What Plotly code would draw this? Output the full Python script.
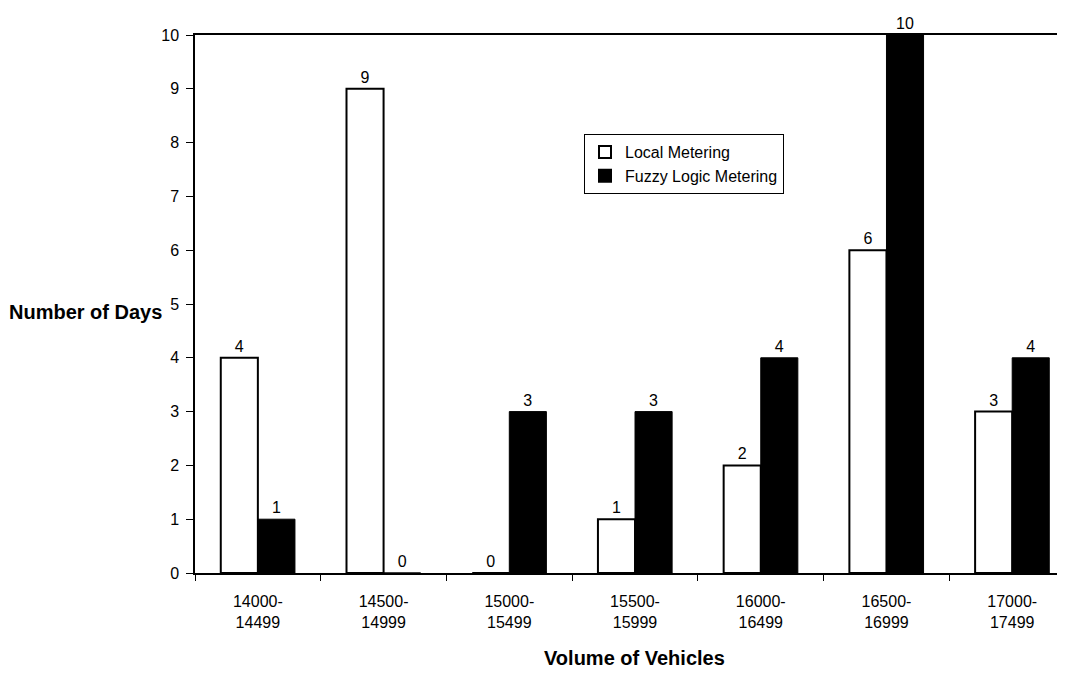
import plotly.graph_objects as go

categories = ["14000-<br>14499", "14500-<br>14999", "15000-<br>15499", "15500-<br>15999",
              "16000-<br>16499", "16500-<br>16999", "17000-<br>17499"]
local_metering = [4, 9, 0, 1, 2, 6, 3]
fuzzy_metering = [1, 0, 3, 3, 4, 10, 4]

font_family = "Liberation Sans, Arial, sans-serif"

# page has an 8px body margin; compensate so the figure fills the window
OFF = 8
FIG_W, FIG_H = 1065 - OFF, 673 - OFF
L, R, T, B = 195 - OFF, 0, 35 - OFF, 100
plot_w = FIG_W - L - R
plot_h = FIG_H - T - B


def px_x(page_x):
    return (page_x - OFF - L) / plot_w


def px_y(page_y):
    return (FIG_H - B - (page_y - OFF)) / plot_h


fig = go.Figure()
fig.add_trace(go.Bar(
    x=categories, y=local_metering, name="Local Metering",
    marker=dict(color="white", line=dict(color="black", width=2)),
    text=[str(v) for v in local_metering], textposition="outside",
    textfont=dict(size=16, color="black", family=font_family), cliponaxis=False,
))
fig.add_trace(go.Bar(
    x=categories, y=fuzzy_metering, name="Fuzzy Logic Metering",
    marker=dict(color="black", line=dict(color="black", width=1)),
    text=[str(v) for v in fuzzy_metering], textposition="outside",
    textfont=dict(size=16, color="black", family=font_family), cliponaxis=False,
))

fig.update_layout(
    width=FIG_W, height=FIG_H,
    margin=dict(l=L, r=R, t=T, b=B, pad=0),
    paper_bgcolor="white", plot_bgcolor="white",
    barmode="group", bargap=0.41, bargroupgap=0,
    font=dict(family=font_family, size=16, color="black"),
    showlegend=True,
    legend=dict(
        x=px_x(584), y=px_y(134), xanchor="left", yanchor="top",
        bordercolor="black", borderwidth=1, bgcolor="white",
        font=dict(size=16, family=font_family),
        itemsizing="constant", itemwidth=30, tracegroupgap=0,
    ),
    xaxis=dict(
        range=[-0.5, 6.42],
        showline=True, linecolor="black", linewidth=1.5, mirror=True,
        ticks="outside", ticklen=6, tickcolor="black", tickson="boundaries",
        ticklabelstandoff=13,
        showgrid=False, tickfont=dict(size=16), automargin=False,
    ),
    yaxis=dict(
        range=[0, 10], dtick=1,
        showline=True, linecolor="black", linewidth=1.5,
        ticks="outside", ticklen=7, tickcolor="black",
        ticklabelstandoff=4,
        showgrid=False, zeroline=False, tickfont=dict(size=16, family=font_family),
        automargin=False,
    ),
    annotations=[
        dict(text="<b>Number of Days</b>", x=px_x(7), y=px_y(312), xref="paper", yref="paper",
             xanchor="left", yanchor="middle", showarrow=False, font=dict(size=20)),
        dict(text="<b>Volume of Vehicles</b>", x=px_x(634), y=px_y(658), xref="paper", yref="paper",
             xanchor="center", yanchor="middle", showarrow=False, font=dict(size=20)),
    ],
)

fig.write_html("out.html")
